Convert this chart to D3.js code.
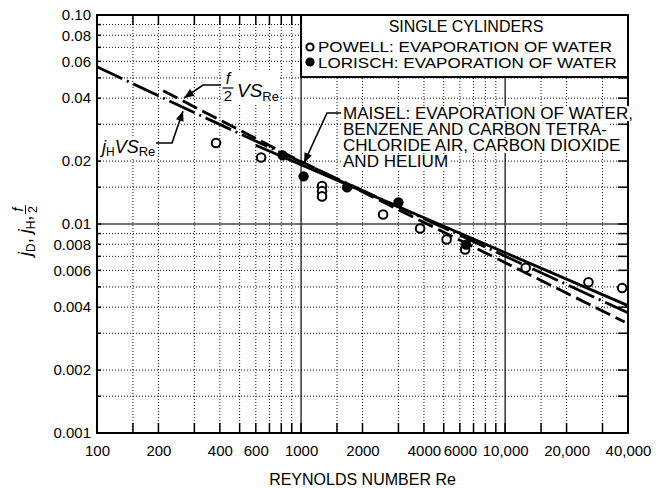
<!DOCTYPE html>
<html>
<head>
<meta charset="utf-8">
<script src="https://cdn.jsdelivr.net/npm/d3@7"></script>
<style>
  html, body { margin: 0; padding: 0; background: #fff; }
  svg { display: block; font-family: "Liberation Sans", Arial, Helvetica, sans-serif; }
</style>
</head>
<body>
<svg id="chart" width="663" height="488"></svg>
<script>
// ---- axis ticks and labels ----
const reTicks = [100, 200, 400, 600, 1000, 2000, 4000, 6000, 10000, 20000, 40000];
const reTickLabels = ["100", "200", "400", "600", "1000", "2000", "4000", "6000", "10,000", "20,000", "40,000"];
const jTicks = [0.1, 0.08, 0.06, 0.04, 0.02, 0.01, 0.008, 0.006, 0.004, 0.002, 0.001];
const jTickLabels = ["0.10", "0.08", "0.06", "0.04", "0.02", "0.01", "0.008", "0.006", "0.004", "0.002", "0.001"];

// ---- grid lines ----
const reGrid = [150, 200, 300, 400, 500, 600, 700, 800, 900,
                1500, 2000, 3000, 4000, 5000, 6000, 7000, 8000, 9000,
                15000, 20000, 30000];
const reHeavy = [1000, 10000];
const jGrid = [0.0015, 0.002, 0.003, 0.004, 0.005, 0.006, 0.007, 0.008, 0.009,
               0.015, 0.02, 0.03, 0.04, 0.05, 0.06, 0.07, 0.08, 0.09];
const jHeavy = [0.01];

// ---- correlation curves ----
const fHalfRe  = [211, 819, 38500];
const fHalfVal = [0.0434, 0.02195, 0.0034];
const jHRe     = [100, 320, 40000];
const jHVal    = [0.0565, 0.0331, 0.00376];
const maiselRe  = [600, 40000];
const maiselVal = [0.0238, 0.00407];

// ---- single-cylinder data ----
const powellRe  = [383, 637, 1267, 1267, 1267, 2523, 3831, 5166, 6368, 12608, 25600, 37460];
const powellVal = [0.0244, 0.0208, 0.0152, 0.01436, 0.01355, 0.0111, 0.00951, 0.00843, 0.00755, 0.00617, 0.00526, 0.00494];
const lorischRe  = [813, 1029, 1681, 2999, 6441];
const lorischVal = [0.0213, 0.0169, 0.01497, 0.01268, 0.00797];

// ---- text ----
const legendTitle = "SINGLE CYLINDERS";
const legendItems = ["POWELL: EVAPORATION OF WATER", "LORISCH: EVAPORATION OF WATER"];
const maiselLines = ["MAISEL: EVAPORATION OF WATER,", "BENZENE AND CARBON TETRA-",
                     "CHLORIDE AIR, CARBON DIOXIDE", "AND HELIUM"];
const xTitle = "REYNOLDS NUMBER Re";

const svg = d3.select("#chart");
const L = 97, R = 628, T = 15, B = 433;

const x = d3.scaleLog().domain([100, 40000]).range([L, R]);
const y = d3.scaleLog().domain([0.001, 0.1]).range([B, T]);

// grid
const grid = svg.append("g");
grid.selectAll(".vg").data(reGrid).join("line")
  .attr("x1", d => x(d)).attr("x2", d => x(d)).attr("y1", T).attr("y2", B)
  .attr("stroke", "#111").attr("stroke-width", 1).attr("stroke-dasharray", "1,2");
grid.selectAll(".hg").data(jGrid).join("line")
  .attr("x1", L).attr("x2", R).attr("y1", d => y(d)).attr("y2", d => y(d))
  .attr("stroke", "#111").attr("stroke-width", 1).attr("stroke-dasharray", "1,2");
grid.selectAll(".vh").data(reHeavy).join("line")
  .attr("x1", d => x(d)).attr("x2", d => x(d)).attr("y1", T).attr("y2", B)
  .attr("stroke", "#000").attr("stroke-width", 1.2);
grid.selectAll(".hh").data(jHeavy).join("line")
  .attr("x1", L).attr("x2", R).attr("y1", d => y(d)).attr("y2", d => y(d))
  .attr("stroke", "#444").attr("stroke-width", 1.6);

// frame ticks pointing inward
const allH = jGrid.concat(jHeavy);
const allV = reGrid.concat(reHeavy);
const tk = svg.append("g").attr("stroke", "#000").attr("stroke-width", 1.5);
tk.selectAll(".tl").data(allH).join("line")
  .attr("x1", L).attr("x2", L + 4).attr("y1", d => y(d)).attr("y2", d => y(d));
tk.selectAll(".tr").data(allH).join("line")
  .attr("x1", R - 10).attr("x2", R).attr("y1", d => y(d)).attr("y2", d => y(d));
tk.selectAll(".tb").data(allV).join("line")
  .attr("x1", d => x(d)).attr("x2", d => x(d)).attr("y1", B - 10).attr("y2", B);
tk.selectAll(".tt").data(allV).join("line")
  .attr("x1", d => x(d)).attr("x2", d => x(d)).attr("y1", T).attr("y2", T + 10);

// axes labels
const yAxis = svg.append("g").attr("transform", `translate(${L},0)`)
  .call(d3.axisLeft(y).tickValues(jTicks).tickFormat((d, i) => jTickLabels[i]).tickSize(0).tickPadding(6));
yAxis.select(".domain").remove();
yAxis.selectAll("text").attr("font-size", 15).attr("fill", "#000")
  .attr("font-family", "Liberation Sans, Arial, sans-serif");

const xAxis = svg.append("g").attr("transform", `translate(0,${B})`)
  .call(d3.axisBottom(x).tickValues(reTicks).tickFormat((d, i) => reTickLabels[i]).tickSize(0).tickPadding(12));
xAxis.select(".domain").remove();
xAxis.selectAll("text").attr("font-size", 15).attr("fill", "#000")
  .attr("font-family", "Liberation Sans, Arial, sans-serif");

svg.append("text").attr("x", (L + R) / 2).attr("y", 485).attr("text-anchor", "middle")
  .attr("font-size", 16).text(xTitle);

// y-axis title: j_D, j_H, f/2
const yt = svg.append("g").attr("transform", "translate(31,228) rotate(-90)");
const ytt = yt.append("text").attr("x", -28).attr("y", 0).attr("font-size", 18);
ytt.append("tspan").attr("font-style", "italic").text("j");
ytt.append("tspan").attr("font-size", 12).attr("dy", 4).text("D");
ytt.append("tspan").attr("dy", -4).text(", ");
ytt.append("tspan").attr("font-style", "italic").text("j");
ytt.append("tspan").attr("font-size", 12).attr("dy", 4).text("H");
ytt.append("tspan").attr("dy", -4).text(",");
const ytw = ytt.node().getComputedTextLength();
const fx = -28 + ytw + 6;
yt.append("text").attr("x", fx).attr("y", -8).attr("text-anchor", "middle")
  .attr("font-size", 14).attr("font-style", "italic").text("f");
yt.append("line").attr("x1", fx - 4.5).attr("x2", fx + 4.5).attr("y1", -5.5).attr("y2", -5.5)
  .attr("stroke", "#000").attr("stroke-width", 1);
yt.append("text").attr("x", fx).attr("y", 6).attr("text-anchor", "middle")
  .attr("font-size", 13).text("2");

// curves
const line = d3.line().x(d => x(d[0])).y(d => y(d[1]));
const zip = (a, b) => a.map((v, i) => [v, b[i]]);
const curves = svg.append("g").attr("fill", "none").attr("stroke", "#000").attr("stroke-width", 2.8);
curves.append("path").attr("d", line(zip(maiselRe, maiselVal)));
curves.append("path").attr("d", line(zip(fHalfRe, fHalfVal))).attr("stroke-dasharray", "16,6");
curves.append("path").attr("d", line(zip(jHRe, jHVal))).attr("stroke-dasharray", "28,5,2,5");

// data points
svg.append("g").selectAll("circle").data(zip(powellRe, powellVal)).join("circle")
  .attr("cx", d => x(d[0])).attr("cy", d => y(d[1])).attr("r", 4.3)
  .attr("fill", "#fff").attr("stroke", "#000").attr("stroke-width", 2);
svg.append("g").selectAll("circle").data(zip(lorischRe, lorischVal)).join("circle")
  .attr("cx", d => x(d[0])).attr("cy", d => y(d[1])).attr("r", 5.2).attr("fill", "#000");

// frame
svg.append("rect").attr("x", L).attr("y", T).attr("width", R - L).attr("height", B - T)
  .attr("fill", "none").attr("stroke", "#000").attr("stroke-width", 2);

// stretch a text element a little wider than its natural length
function widen(t, k) {
  const w = t.node().getComputedTextLength();
  t.attr("textLength", w * k).attr("lengthAdjust", "spacingAndGlyphs");
}

// legend box
const lg = svg.append("g");
lg.append("rect").attr("x", x(1000)).attr("y", T).attr("width", R - x(1000)).attr("height", 62)
  .attr("fill", "#fff").attr("stroke", "#000").attr("stroke-width", 2);
lg.append("text").attr("x", 466).attr("y", 32).attr("text-anchor", "middle").attr("font-size", 16).text(legendTitle);
lg.append("circle").attr("cx", 310).attr("cy", 47).attr("r", 3.6).attr("fill", "#fff").attr("stroke", "#000").attr("stroke-width", 2);
lg.append("circle").attr("cx", 310).attr("cy", 62).attr("r", 4.6).attr("fill", "#000");
legendItems.forEach((s, i) => {
  const t = lg.append("text").attr("x", 318).attr("y", 52 + i * 16).attr("font-size", 15.5).text(s);
  widen(t, 1.1);
});

// white backing rectangle under a label group
function backedText(g) {
  const bb = g.node().getBBox();
  g.insert("rect", ":first-child").attr("x", bb.x - 1).attr("y", bb.y + 1)
    .attr("width", bb.width + 2).attr("height", bb.height - 2).attr("fill", "#fff");
}

// leader with filled arrowhead
function leader(pts) {
  svg.append("path").attr("d", d3.line()(pts)).attr("fill", "none")
    .attr("stroke", "#000").attr("stroke-width", 1.6);
  const [p, q] = pts.slice(-2);
  const a = Math.atan2(q[1] - p[1], q[0] - p[0]);
  const len = 10, w = 4;
  const bx = q[0] - len * Math.cos(a), by = q[1] - len * Math.sin(a);
  const tri = [q, [bx + w * Math.sin(a), by - w * Math.cos(a)], [bx - w * Math.sin(a), by + w * Math.cos(a)]];
  svg.append("path").attr("d", d3.line()(tri) + "Z").attr("fill", "#000");
}

// Maisel note
const mg = svg.append("g");
maiselLines.forEach((s, i) => {
  const g = mg.append("g");
  const t = g.append("text").attr("x", 343).attr("y", 119 + i * 16).attr("font-size", 16).text(s);
  widen(t, 1.065);
  backedText(g);
});
leader([[341, 113], [327, 113], [304, 163]]);

// f/2 vs Re note
const fg = svg.append("g");
fg.append("text").attr("x", 228).attr("y", 84).attr("text-anchor", "middle")
  .attr("font-size", 16).attr("font-style", "italic").text("f");
fg.append("line").attr("x1", 222.5).attr("x2", 233.5).attr("y1", 88).attr("y2", 88)
  .attr("stroke", "#000").attr("stroke-width", 1.2);
fg.append("text").attr("x", 228).attr("y", 101).attr("text-anchor", "middle")
  .attr("font-size", 15).text("2");
const ft = fg.append("text").attr("x", 237).attr("y", 97).attr("font-size", 19);
ft.append("tspan").attr("font-style", "italic").text("VS");
ft.append("tspan").attr("font-size", 13).attr("dy", 4).text("Re");
backedText(fg);
leader([[221, 85], [203, 85], [184, 98]]);

// j_H vs Re note
const hg = svg.append("g");
const ht = hg.append("text").attr("x", 102).attr("y", 153).attr("font-size", 18);
ht.append("tspan").attr("font-style", "italic").text("j");
ht.append("tspan").attr("font-size", 12).attr("dy", 3).text("H");
ht.append("tspan").attr("font-style", "italic").attr("dy", -3).text("VS");
ht.append("tspan").attr("font-size", 13).attr("dy", 3).text("Re");
backedText(hg);
leader([[156, 143], [172, 143], [183, 111]]);
</script>
</body>
</html>
